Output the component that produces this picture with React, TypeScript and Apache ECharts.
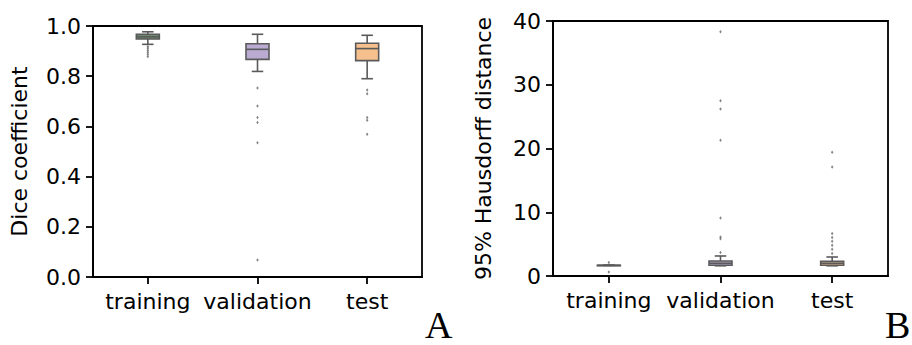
import React, { useEffect, useRef } from "react";
import * as echarts from "echarts";

const categories = ["training", "validation", "test"];
const boxColors = ["#6f8c6f", "#bbaad2", "#f5c08e"];

// [min, q1, median, q3, max]
const diceBoxes = [
  [0.927, 0.948, 0.957, 0.967, 0.977],
  [0.819, 0.867, 0.907, 0.929, 0.967],
  [0.79, 0.862, 0.91, 0.931, 0.963],
];
const diceOutliers = [
  [0.918, 0.911, 0.903, 0.895, 0.887, 0.878],
  [0.753, 0.681, 0.635, 0.616, 0.535, 0.068],
  [0.745, 0.73, 0.635, 0.625, 0.569],
];

const hdBoxes = [
  [1.68, 1.68, 1.68, 1.68, 1.68],
  [1.6, 1.68, 2.0, 2.35, 3.14],
  [1.6, 1.68, 1.99, 2.3, 2.98],
];
const hdOutliers = [
  [2.1, 0.63],
  [3.67, 5.86, 6.1, 9.1, 21.3, 26.2, 27.5, 38.3],
  [3.51, 4.19, 4.82, 5.44, 6.02, 6.65, 17.1, 19.4],
];

const diceTicks = [0, 0.2, 0.4, 0.6, 0.8, 1.0];
const hdTicks = [0, 10, 20, 30, 40];

const FONT = "DejaVu Sans";
const EDGE = "#5a5a5a";

function boxSeries(boxes: number[][], gridIdx: number) {
  return {
    type: "custom",
    xAxisIndex: gridIdx,
    yAxisIndex: gridIdx,
    data: boxes.map((b, i) => [i, ...b]),
    renderItem: (params: any, api: any) => {
      const idx = api.value(0);
      const vals = [1, 2, 3, 4, 5].map((k) => api.value(k));
      const x = api.coord([idx, vals[2]])[0];
      const ys = vals.map((v) => api.coord([idx, v])[1]);
      const w = 23;
      const cw = w / 2;
      const ls = { stroke: EDGE, lineWidth: 1.6 };
      return {
        type: "group",
        children: [
          { type: "line", shape: { x1: x, y1: ys[3], x2: x, y2: ys[4] }, style: ls },
          { type: "line", shape: { x1: x, y1: ys[1], x2: x, y2: ys[0] }, style: ls },
          { type: "line", shape: { x1: x - cw / 2, y1: ys[4], x2: x + cw / 2, y2: ys[4] }, style: ls },
          { type: "line", shape: { x1: x - cw / 2, y1: ys[0], x2: x + cw / 2, y2: ys[0] }, style: ls },
          {
            type: "rect",
            shape: { x: x - w / 2, y: ys[3], width: w, height: Math.max(ys[1] - ys[3], 0.5) },
            style: { fill: boxColors[idx], stroke: EDGE, lineWidth: 1.6 },
          },
          { type: "line", shape: { x1: x - w / 2, y1: ys[2], x2: x + w / 2, y2: ys[2] }, style: ls },
        ],
      };
    },
    z: 3,
  };
}

function outlierSeries(outs: number[][], gridIdx: number) {
  const data: number[][] = [];
  outs.forEach((arr, i) => arr.forEach((v) => data.push([i, v])));
  return {
    type: "scatter",
    xAxisIndex: gridIdx,
    yAxisIndex: gridIdx,
    data,
    symbol: "diamond",
    symbolSize: [2.5, 3.5],
    itemStyle: { color: "#666666" },
    z: 4,
  };
}

const axisLineStyle = { lineStyle: { color: "#000", width: 1.8 } };
const tickStyle = { show: true, length: 7, lineStyle: { color: "#000", width: 1.8 } };

export default function App() {
  const ref = useRef<HTMLDivElement>(null);
  useEffect(() => {
    if (!ref.current) return;
    const chart = echarts.init(ref.current, undefined, { renderer: "svg" });
    const xAxisBase = {
      type: "category",
      data: categories,
      axisLine: axisLineStyle,
      axisTick: { ...tickStyle, alignWithLabel: true },
      axisLabel: { color: "#000", fontFamily: FONT, fontSize: 22, margin: 13, interval: 0, hideOverlap: false },
      splitLine: { show: false },
    };
    chart.setOption({
      animation: false,
      grid: [
        { left: 93, top: 26, width: 329, height: 251, show: true, borderColor: "#000", borderWidth: 1.8, backgroundColor: "transparent" },
        { left: 553, top: 21, width: 335, height: 255, show: true, borderColor: "#000", borderWidth: 1.8, backgroundColor: "transparent" },
      ],
      xAxis: [
        { ...xAxisBase, gridIndex: 0 },
        { ...xAxisBase, gridIndex: 1 },
      ],
      yAxis: [
        {
          type: "value",
          gridIndex: 0,
          min: diceTicks[0],
          max: diceTicks[diceTicks.length - 1],
          interval: 0.2,
          name: "Dice coefficient",
          nameLocation: "middle",
          nameGap: 63,
          nameTextStyle: { color: "#000", fontFamily: FONT, fontSize: 22 },
          axisLine: { show: true, ...axisLineStyle },
          axisTick: tickStyle,
          axisLabel: { color: "#000", fontFamily: FONT, fontSize: 22, margin: 12, formatter: (v: number) => v.toFixed(1) },
          splitLine: { show: false },
        },
        {
          type: "value",
          gridIndex: 1,
          min: hdTicks[0],
          max: hdTicks[hdTicks.length - 1],
          interval: 10,
          name: "95% Hausdorff distance",
          nameLocation: "middle",
          nameGap: 59,
          nameTextStyle: { color: "#000", fontFamily: FONT, fontSize: 22 },
          axisLine: { show: true, ...axisLineStyle },
          axisTick: tickStyle,
          axisLabel: { color: "#000", fontFamily: FONT, fontSize: 22, margin: 12 },
          splitLine: { show: false },
        },
      ],
      series: [
        boxSeries(diceBoxes, 0),
        outlierSeries(diceOutliers, 0),
        boxSeries(hdBoxes, 1),
        outlierSeries(hdOutliers, 1),
      ],
      graphic: [
        { type: "text", x: 425, y: 325, style: { text: "A", fontFamily: "Liberation Serif", fontSize: 38, lineHeight: 30, fill: "#000", verticalAlign: "middle", align: "left" } },
        { type: "text", x: 885, y: 325, style: { text: "B", fontFamily: "Liberation Serif", fontSize: 38, lineHeight: 30, fill: "#000", verticalAlign: "middle", align: "left" } },
      ],
    });
    return () => chart.dispose();
  }, []);
  return (
    <div
      ref={ref}
      style={{ position: "fixed", left: 0, top: 0, width: 912, height: 345, background: "#fff" }}
    />
  );
}
